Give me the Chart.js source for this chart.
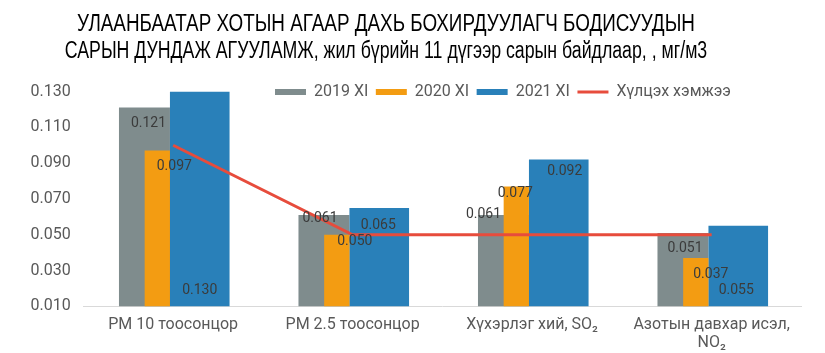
<!DOCTYPE html>
<html><head><meta charset="utf-8">
<script src="https://cdn.jsdelivr.net/npm/chart.js@4.4.0/dist/chart.umd.min.js"></script>
<style>html,body{margin:0;padding:0;background:#fff;} #wrap{position:relative;width:825px;height:353px;}</style>
</head><body><div id="wrap"><canvas id="c"></canvas></div>
<script>
const categories = ['PM 10 тоосонцор', 'PM 2.5 тоосонцор', 'Хүхэрлэг хий, SO₂', ['Азотын давхар исэл,', 'NO₂']];
const seriesNames = ['2019 XI', '2020 XI', '2021 XI', 'Хүлцэх хэмжээ'];
const values2019 = [0.121, 0.061, 0.061, 0.051];
const values2020 = [0.097, 0.050, 0.077, 0.037];
const values2021 = [0.130, 0.065, 0.092, 0.055];
const limitValues = [0.100, 0.050, 0.050, 0.050];
const yTicks = [0.010, 0.030, 0.050, 0.070, 0.090, 0.110, 0.130];
const titleLines = ['УЛААНБААТАР ХОТЫН АГААР ДАХЬ БОХИРДУУЛАГЧ БОДИСУУДЫН', 'САРЫН ДУНДАЖ АГУУЛАМЖ, жил бүрийн 11 дүгээр сарын байдлаар, , мг/м3'];

// label placement styles (pixel offsets from the bar's top or base)
const labelOffsets = [
  [{dx:4,dy:16},{dx:-4,dy:3},{dx:-20,dy:-1},{dx:2,dy:16}],
  [{dx:17,dy:16},{dx:18,dy:7},{dx:-1,dy:7},{dx:15,dy:16}],
  [{from:'base',dx:0,dy:-16},{dx:-1,dy:18},{dx:6,dy:12},{from:'base',dx:-2,dy:-16}]
];

const valueLabels = {
  id: 'valueLabels',
  afterDatasetsDraw(chart) {
    const ctx = chart.ctx;
    ctx.save();
    ctx.font = '14px Roboto';
    ctx.fillStyle = '#3b3b3b';
    ctx.textAlign = 'center';
    ctx.textBaseline = 'middle';
    chart.data.datasets.forEach((ds, di) => {
      if (ds.type !== 'bar') return;
      const meta = chart.getDatasetMeta(di);
      meta.data.forEach((el, i) => {
        const o = labelOffsets[di][i];
        const y = (o.from === 'base' ? el.base : el.y) + o.dy;
        ctx.fillText(ds.data[i].toFixed(3), el.x + o.dx, y);
      });
    });
    ctx.restore();
  }
};

const nudge = {
  id: 'nudge',
  afterLayout(chart, args, opts) {
    const t = chart.titleBlock;
    if (t) {
      t.left += opts.titleDx; t.right += opts.titleDx; t.top += opts.titleDy; t.bottom += opts.titleDy;
      if (!t._narrowed) {
        const orig = t.draw;
        t.draw = function () {
          const ctx = this.ctx;
          const cx = (this.left + this.right) / 2;
          ctx.save();
          ctx.translate(cx, 0); ctx.scale(opts.titleScaleX, 1); ctx.translate(-cx, 0);
          orig.apply(this, arguments);
          ctx.restore();
        };
        t._narrowed = true;
      }
    }
    const l = chart.legend;
    if (l) { l.left += opts.legendDx; l.right += opts.legendDx; l.top += opts.legendDy; l.bottom += opts.legendDy; }
  }
};

new Chart(document.getElementById('c'), {
  data: {
    labels: categories,
    datasets: [
      { type:'bar', label: seriesNames[0], data: values2019, backgroundColor:'#7F8C8D', stack:'A', order:3,
        categoryPercentage:0.639, barPercentage:0.889, base: yTicks[0], borderWidth:0, pointStyle:'rect' },
      { type:'bar', label: seriesNames[1], data: values2020, backgroundColor:'#F39C12', stack:'A', order:2,
        categoryPercentage:0.353, barPercentage:0.798, base: yTicks[0], borderWidth:0, pointStyle:'rect' },
      { type:'bar', label: seriesNames[2], data: values2021, backgroundColor:'#2980B9', stack:'B', order:2,
        categoryPercentage:0.593, barPercentage:1.12, base: yTicks[0], borderWidth:0, pointStyle:'rect' },
      { type:'line', label: seriesNames[3], data: limitValues, borderColor:'#E74C3C', backgroundColor:'#E74C3C',
        borderWidth:3, pointRadius:0, pointHoverRadius:0, pointStyle:'line', fill:false, tension:0, order:0 }
    ]
  },
  options: {
    responsive: true,
    maintainAspectRatio: false,
    animation: false,
    layout: { padding: { left: 18, right: 23.6, top: 4, bottom: -8.2 } },
    scales: {
      x: {
        grid: { display: false, drawTicks: false },
        border: { display: true, color: '#d9d9d9', width: 1 },
        ticks: { color: '#595959', font: { family: 'Roboto', size: 16, lineHeight: 1.15 }, padding: 9, maxRotation: 0, autoSkip: false }
      },
      y: {
        stacked: false,
        min: yTicks[0], max: yTicks[yTicks.length - 1],
        afterBuildTicks: axis => { axis.ticks = yTicks.map(v => ({ value: v })); },
        grid: { display: false, drawTicks: false },
        border: { display: false },
        ticks: { color: '#595959', font: { family: 'Roboto', size: 16 }, padding: 12.6, callback: v => Number(v).toFixed(3) }
      }
    },
    plugins: {
      title: { display: true, text: titleLines, color: '#000', padding: { top: 0, bottom: 0 },
        font: { family: "'Liberation Sans', Arial, sans-serif", size: 23, weight: 'normal', lineHeight: 1.174 } },
      legend: {
        display: true, position: 'top', align: 'start',
        labels: { color: '#595959', font: { family: 'Roboto', size: 16 }, usePointStyle: true, pointStyleWidth: 31,
          boxWidth: 31, boxHeight: 6, padding: 7.5, sort: (a, b) => a.datasetIndex - b.datasetIndex }
      },
      tooltip: { enabled: false },
      nudge: { titleDx: -23.7, titleDy: 7.5, titleScaleX: 0.82, legendDx: 249.5, legendDy: 18.5 }
    }
  },
  plugins: [valueLabels, nudge]
});
</script>
</body></html>
